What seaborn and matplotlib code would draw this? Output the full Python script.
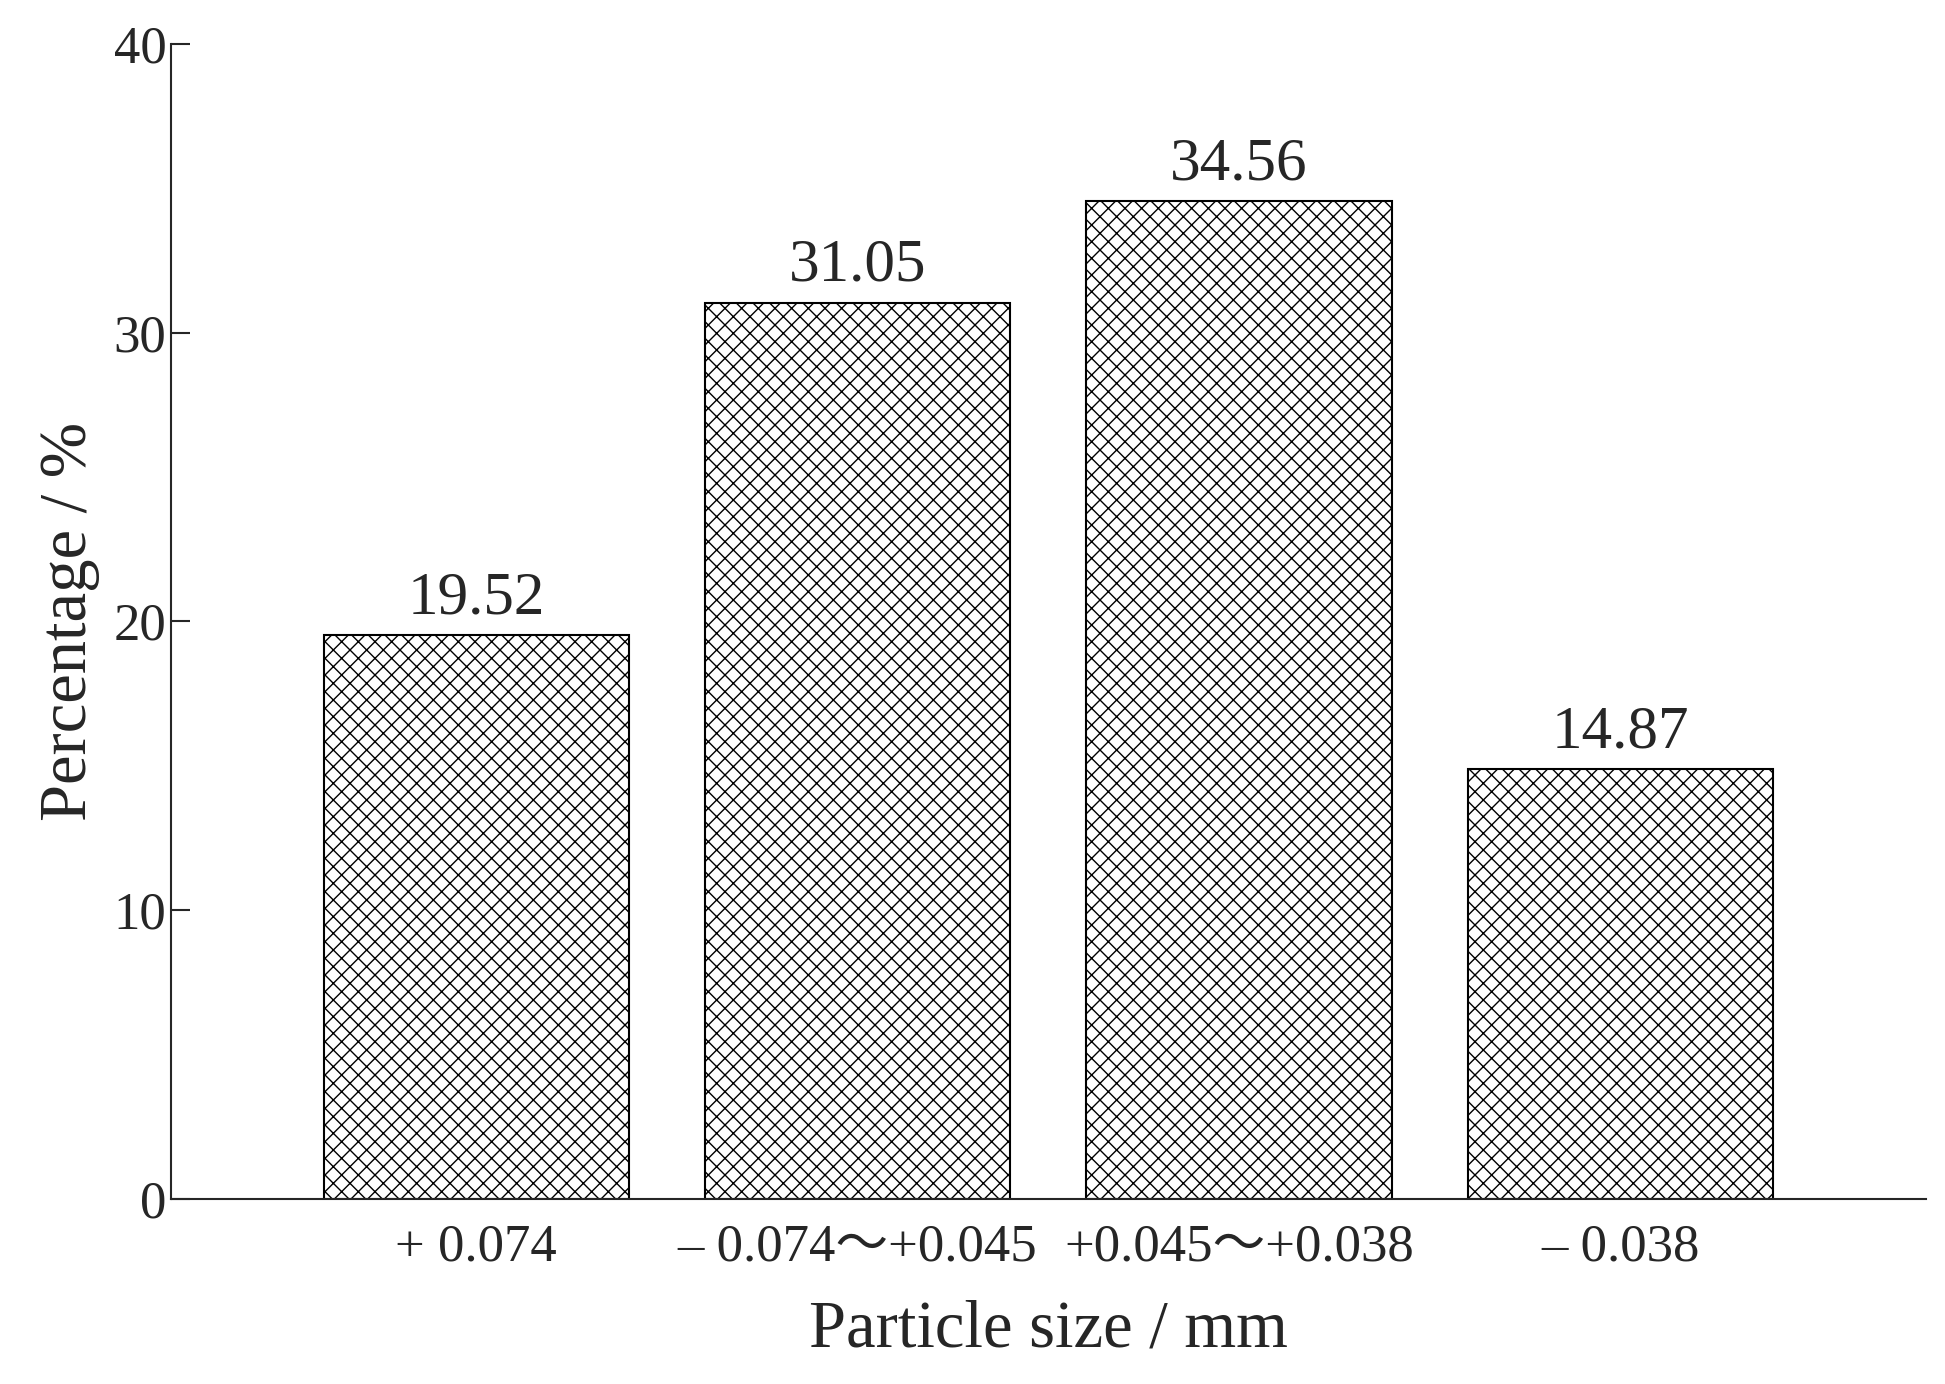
import matplotlib
matplotlib.use("Agg")
import matplotlib.pyplot as plt
import seaborn as sns
import pandas as pd

categories = ["+ 0.074", "\u2013 0.074\uff5e+0.045", "+0.045\uff5e+0.038", "\u2013 0.038"]
values = [19.52, 31.05, 34.56, 14.87]

sns.set_style("ticks")
plt.rcParams["font.family"] = ["Liberation Serif", "Noto Sans CJK SC"]
plt.rcParams["hatch.linewidth"] = 1.0

df = pd.DataFrame({"size": categories, "pct": values})

fig = plt.figure(figsize=(19.45, 13.84), dpi=100)
ax = fig.add_axes([0.088, 0.134, 0.902, 0.834])
sns.barplot(data=df, x="size", y="pct", color="white", edgecolor="black",
            linewidth=1.5, width=0.8, ax=ax)
for p in ax.patches:
    p.set_hatch("xx")

for i, v in enumerate(values):
    ax.text(i, v + 0.3, f"{v:.2f}", ha="center", va="bottom", fontsize=44)

ax.set_xlim(-0.8, 3.8)
ax.set_ylim(0, 40)
ax.set_yticks([0, 10, 20, 30, 40])
ax.tick_params(axis="y", direction="in", length=14, width=1.5, labelsize=38)
ax.tick_params(axis="x", length=0, labelsize=38, pad=18)
ax.set_xlabel("Particle size / mm", fontsize=48, labelpad=20)
ax.set_ylabel("Percentage / %", fontsize=48, labelpad=10)
for s in ["top", "right"]:
    ax.spines[s].set_visible(False)
for s in ["left", "bottom"]:
    ax.spines[s].set_linewidth(1.5)

fig.savefig("out.png", dpi=100)
